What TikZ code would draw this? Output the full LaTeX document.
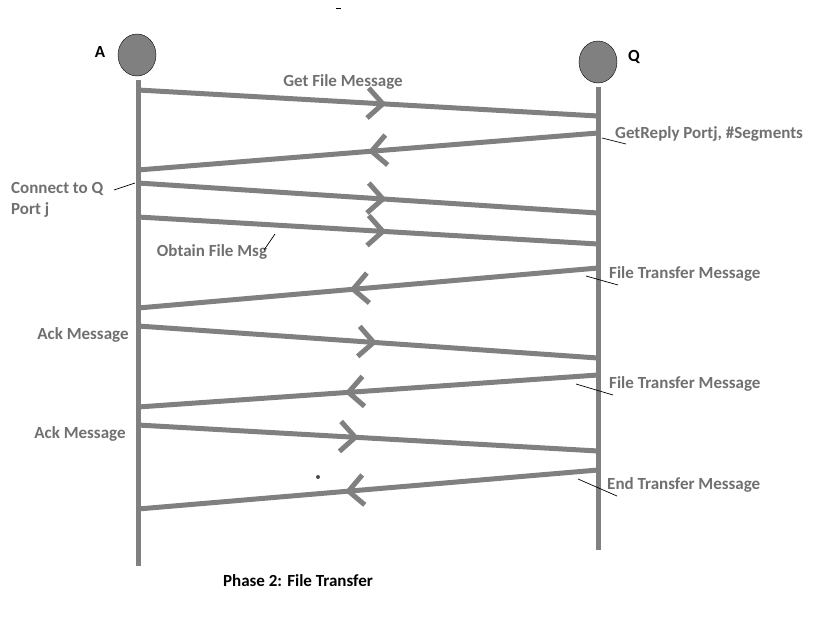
\documentclass[tikz,border=0pt]{standalone}
\usepackage{fontspec}
\setmainfont{Carlito}
\usetikzlibrary{arrows.meta,decorations.markings}
\definecolor{linegray}{RGB}{128,128,128}
\definecolor{textgray}{RGB}{112,112,112}
\tikzset{
  life/.style={line width=5pt,color=linegray},
  msg/.style={line width=5pt,color=linegray,postaction={decorate},
    decoration={markings,mark=at position #1 with {\arrow{Straight Barb[length=15pt,width=30pt]}}}},
  lbl/.style={font=\fontsize{17}{21}\selectfont\bfseries,text=textgray,inner sep=0pt},
  hd/.style={font=\fontsize{17}{21}\selectfont\bfseries,text=black,inner sep=0pt},
  tick/.style={line width=0.7pt,color=black},
  proc/.style={draw=black,fill=linegray,ellipse,minimum width=38pt,minimum height=42pt,inner sep=0pt}
}
\usetikzlibrary{shapes.geometric}
\begin{document}
\begin{tikzpicture}[x=1pt,y=-1pt]
        \useasboundingbox (0,0) rectangle (825,619);
        % processes
        \node[proc] (pa) at (137,55) {};
        \node[proc] (pq) at (598,62) {};
        \node[hd] (la) at (100,52) {A};
        \node[hd] (lq) at (634,57) {Q};
        % lifelines
        \coordinate (atop) at (138,80);
        \coordinate (abot) at (138,566);
        \coordinate (qtop) at (598,87);
        \coordinate (qbot) at (598,550);
        \draw[life] (atop)--(abot);
        \draw[life] (qtop)--(qbot);
        % message ends
        \coordinate (a1) at (138,90);  \coordinate (q1) at (598,116);
        \coordinate (q2) at (598,133); \coordinate (a2) at (138,170);
        \coordinate (a3) at (138,183); \coordinate (q3) at (598,213);
        \coordinate (a4) at (138,217); \coordinate (q4) at (598,244);
        \coordinate (q5) at (598,268); \coordinate (a5) at (138,308);
        \coordinate (a6) at (138,326); \coordinate (q6) at (598,358);
        \coordinate (q7) at (598,375); \coordinate (a7) at (138,407);
        \coordinate (a8) at (138,425); \coordinate (q8) at (598,451);
        \coordinate (q9) at (598,470); \coordinate (a9) at (138,509);
        % messages
        \draw[msg=0.54] (a1)--(q1);
        \draw[msg=0.50] (q2)--(a2);
        \draw[msg=0.54] (a3)--(q3);
        \draw[msg=0.54] (a4)--(q4);
        \draw[msg=0.54] (q5)--(a5);
        \draw[msg=0.52] (a6)--(q6);
        \draw[msg=0.55] (q7)--(a7);
        \draw[msg=0.48] (a8)--(q8);
        \draw[msg=0.55] (q9)--(a9);
        % labels
        \node[lbl] (m1) at (343,82) {Get File Message};
        \node[lbl,anchor=west] (m2) at (615,134) {GetReply Portj, \#Segments};
        \node[lbl,anchor=west,align=left] (m3) at (11,200) {Connect to Q\\Port j};
        \node[lbl] (m4) at (212,252) {Obtain File Msg};
        \node[lbl,anchor=west] (m5) at (609,274) {File Transfer Message};
        \node[lbl] (m6) at (83,335) {Ack Message};
        \node[lbl,anchor=west] (m7) at (609,384) {File Transfer Message};
        \node[lbl] (m8) at (80,434) {Ack Message};
        \node[lbl,anchor=west] (m9) at (607,485) {End Transfer Message};
        \node[hd] (title) at (298,581) {Phase 2: File Transfer};
        % pointer ticks
        \draw[tick] (602,138)--(626,144);
        \draw[tick] (114,190)--(135,183);
        \draw[tick] (264,250)--(275,234);
        \draw[tick] (586,276)--(618,285);
        \draw[tick] (576,384)--(613,395);
        \draw[tick] (578,479)--(617,496);
        % stray marks
        \fill[black!70] (318,477) circle (2);
        \draw[tick] (336,8)--(341,8);
\end{tikzpicture}
\end{document}
